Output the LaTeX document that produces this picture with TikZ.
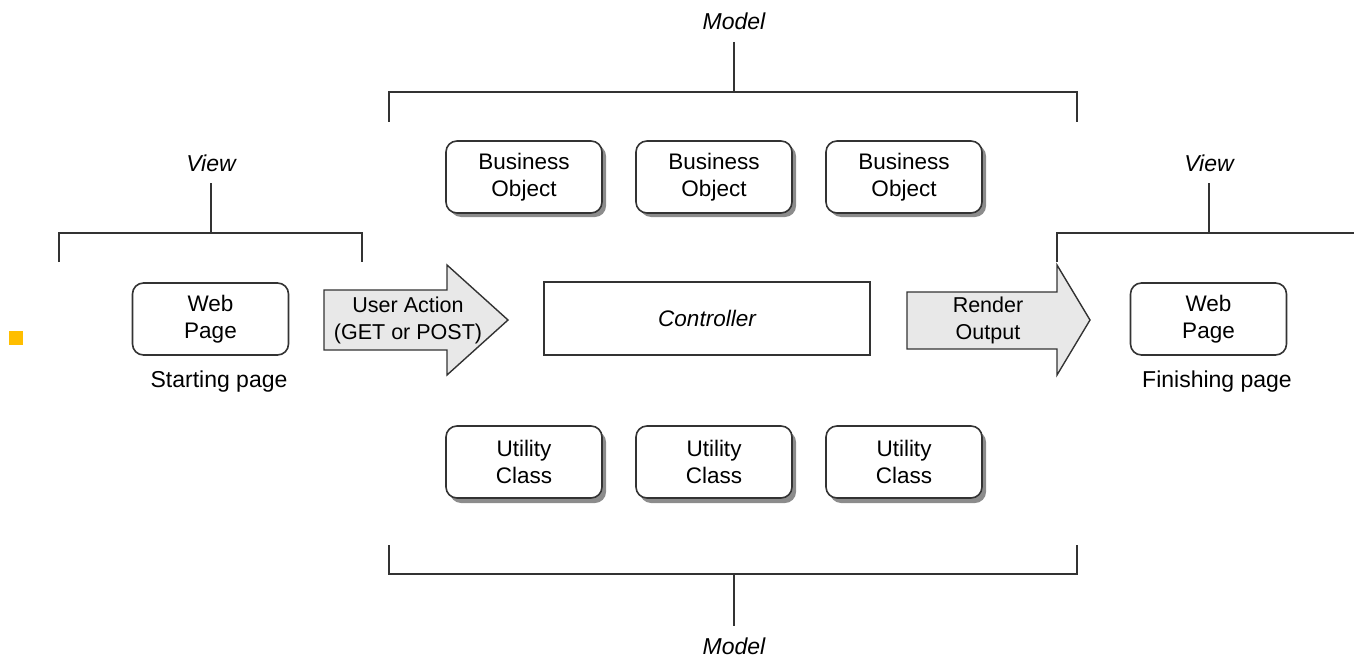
\documentclass[tikz,border=0pt]{standalone}
\usepackage{fontspec}
\setmainfont{Liberation Sans}
\usetikzlibrary{positioning,calc}
\begin{document}
\begin{tikzpicture}[x=1pt,y=-1pt,
  line/.style={draw=black!80, line width=1.8pt},
  rbox/.style={draw=black!80, line width=1.6pt, rounded corners=11pt, fill=white,
    minimum width=156pt, minimum height=72pt, align=center, inner sep=0pt,
    font=\fontsize{22.5}{27}\selectfont},
  lbl/.style={font=\fontsize{23}{27}\selectfont, inner sep=0pt},
  ilbl/.style={font=\fontsize{23}{27}\selectfont\itshape, inner sep=0pt},
  bigarrow/.style={draw=black!80, line width=1.4pt, fill=black!9, line join=miter},
  arrowtext/.style={font=\fontsize{21.5}{27}\selectfont, align=center, inner sep=0pt},
  shade/.style={fill=black!45, rounded corners=11pt}
]
\useasboundingbox (0,0) rectangle (1354,658);

% small marker square at the left edge
\fill[fill={rgb,255:red,255;green,190;blue,0}] (9,331) rectangle (23,345);

% ---- Model bracket (top) ----
\node[ilbl] (mtop) at (734,21) {Model};
\coordinate (mtopA) at (734,42);
\coordinate (mtopB) at (734,92);
\draw[line] (mtopA) -- (mtopB);
\draw[line] (389,122) -- (389,92) -- (1077,92) -- (1077,122);

% ---- Business objects ----
\foreach \n/\x in {1/524,2/714,3/904}{
  \fill[shade] (\x-74,145) rectangle (\x+82,217);
  \node[rbox] (bo\n) at (\x,177) {Business\\Object};
}

% ---- View bracket (left) ----
\node[ilbl] (vleft) at (211,163) {View};
\coordinate (vlA) at (211,183);
\coordinate (vlB) at (211,233);
\draw[line] (vlA) -- (vlB);
\draw[line] (59,262) -- (59,233) -- (362,233) -- (362,262);

% ---- Starting web page ----
\node[rbox] (wp1) at (210.5,319) {Web\\Page};
\node[lbl] (start) at (219,382) {Starting page};

% ---- User action arrow ----
\draw[bigarrow] (324,290) -- (447,290) -- (447,265) -- (508,320) -- (447,375)
  -- (447,350) -- (324,350) -- cycle;
\node[arrowtext] (ua) at (408,320) {User Action\\(GET or POST)};

% ---- Controller ----
\node[draw=black!80, line width=1.6pt, minimum width=326pt, minimum height=73pt,
  inner sep=0pt, font=\fontsize{22.5}{27}\selectfont\itshape] (ctrl) at (707,318.5) {Controller};

% ---- Render output arrow ----
\draw[bigarrow] (907,292) -- (1057,292) -- (1057,265) -- (1090,320) -- (1057,375)
  -- (1057,349) -- (907,349) -- cycle;
\node[arrowtext] (ro) at (988,320) {Render\\Output};

% ---- View bracket (right) ----
\node[ilbl] (vright) at (1209,163) {View};
\coordinate (vrA) at (1209,183);
\coordinate (vrB) at (1209,233);
\draw[line] (vrA) -- (vrB);
\draw[line] (1057,262) -- (1057,233) -- (1354,233);

% ---- Finishing web page ----
\node[rbox] (wp2) at (1208.5,319) {Web\\Page};
\node[lbl] (finish) at (1217,382) {Finishing page};

% ---- Utility classes ----
\foreach \n/\x in {1/524,2/714,3/904}{
  \fill[shade] (\x-74,431) rectangle (\x+82,503);
  \node[rbox] (uc\n) at (\x,462) {Utility\\Class};
}

% ---- Model bracket (bottom) ----
\draw[line] (389,545) -- (389,574) -- (1077,574) -- (1077,545);
\coordinate (mbotA) at (734,574);
\coordinate (mbotB) at (734,626);
\draw[line] (mbotA) -- (mbotB);
\node[ilbl] (mbot) at (734,646) {Model};
\end{tikzpicture}
\end{document}
